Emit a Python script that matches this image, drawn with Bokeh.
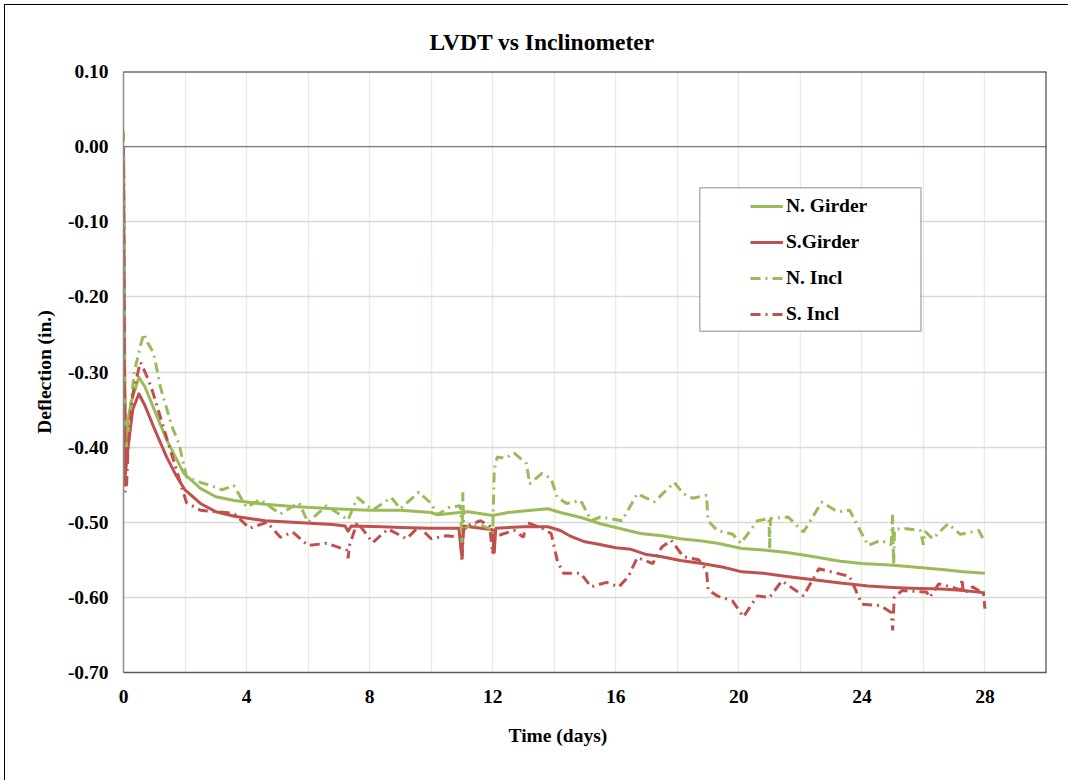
from bokeh.plotting import figure
from bokeh.models import (Span, BoxAnnotation, Legend, LegendItem, Title,
                          FixedTicker, NumeralTickFormatter, Range1d)
from bokeh.embed import file_html
from bokeh.resources import INLINE

# ---------------- data ----------------
x_ticks = [0, 4, 8, 12, 16, 20, 24, 28]
y_ticks = [-0.7, -0.6, -0.5, -0.4, -0.3, -0.2, -0.1, 0.0, 0.1]

n_girder_day = [0, 0.03, 0.08, 0.12, 0.25, 0.5, 0.7, 1.0, 1.4, 1.96, 2.5, 3.0,
                3.6, 4.6, 5.5, 6.8, 8.0, 9.0, 10.0, 10.2, 11.2, 12.0, 12.5, 13.0,
                13.8, 14.2, 14.9, 15.5, 16.0, 16.8, 17.5, 18.1, 18.8, 19.3, 20.1,
                20.8, 21.5, 22.3, 23.3, 24.0, 24.9, 25.5, 26.6, 27.3, 28.0]
n_girder_val = [-0.05, -0.30, -0.39, -0.37, -0.34, -0.307, -0.32, -0.35, -0.39,
                -0.435, -0.455, -0.466, -0.471, -0.476, -0.479, -0.482, -0.484,
                -0.484, -0.487, -0.49, -0.486, -0.491, -0.487, -0.485, -0.482,
                -0.487, -0.494, -0.502, -0.507, -0.515, -0.518, -0.522, -0.525,
                -0.528, -0.535, -0.537, -0.540, -0.545, -0.552, -0.555, -0.557,
                -0.559, -0.563, -0.566, -0.568]

s_girder_day = [0, 0.02, 0.05, 0.1, 0.15, 0.3, 0.5, 0.7, 1.0, 1.4, 1.7, 2.0, 2.5,
                3.0, 3.6, 4.6, 5.5, 6.8, 7.2, 7.3, 7.4, 8.4, 9.0, 10.0, 10.9,
                11.0, 11.05, 12.0, 12.05, 12.1, 13.0, 13.8, 14.2, 14.5, 15.0,
                15.4, 16.0, 16.5, 17.0, 17.5, 18.1, 18.8, 19.5, 20.1, 20.8, 21.5,
                22.3, 23.3, 24.2, 25.0, 25.6, 26.6, 27.3, 28.0]
s_girder_val = [0.0, -0.20, -0.44, -0.42, -0.40, -0.35, -0.329, -0.345, -0.375,
                -0.413, -0.437, -0.457, -0.475, -0.486, -0.492, -0.498, -0.500,
                -0.503, -0.505, -0.512, -0.505, -0.506, -0.507, -0.508, -0.508,
                -0.545, -0.505, -0.51, -0.54, -0.508, -0.506, -0.506, -0.511,
                -0.518, -0.526, -0.529, -0.534, -0.536, -0.543, -0.546, -0.551,
                -0.555, -0.560, -0.566, -0.568, -0.572, -0.576, -0.581, -0.585,
                -0.587, -0.588, -0.589, -0.591, -0.594]

n_incl_day = [0, 0.02, 0.05, 0.1, 0.2, 0.35, 0.55, 0.66, 0.8, 0.98, 1.2, 1.42,
              1.6, 1.8, 2.05, 2.5, 2.9, 3.2, 3.58, 4.0, 4.44, 5.1, 5.7, 6.0, 6.6,
              7.3, 7.6, 8.1, 8.7, 9.0, 9.6, 10.0, 10.2, 10.6, 10.95, 11.0, 11.03,
              11.06, 11.3, 11.7, 11.95, 12.0, 12.05, 12.15, 12.4, 12.7, 13.1,
              13.2, 13.6, 13.9, 14.1, 14.4, 14.86, 15.2, 15.5, 16.2, 16.7, 17.25,
              17.9, 18.2, 18.5, 18.95, 19.0, 19.3, 19.8, 20.07, 20.6, 20.98, 21.0,
              21.03, 21.6, 22.1, 22.7, 23.2, 23.6, 24.2, 24.6, 24.95, 25.0, 25.03,
              25.06, 25.3, 25.9, 26.0, 26.05, 26.3, 26.8, 27.2, 27.8, 28.0]
n_incl_val = [0.02, -0.10, -0.35, -0.40, -0.36, -0.30, -0.265, -0.249, -0.262,
              -0.275, -0.32, -0.351, -0.375, -0.395, -0.44, -0.447, -0.452,
              -0.457, -0.451, -0.48, -0.47, -0.489, -0.474, -0.50, -0.478,
              -0.497, -0.467, -0.484, -0.467, -0.482, -0.46, -0.475, -0.49,
              -0.48, -0.478, -0.53, -0.46, -0.51, -0.503, -0.505, -0.51, -0.515,
              -0.43, -0.413, -0.415, -0.408, -0.422, -0.449, -0.435, -0.442,
              -0.467, -0.475, -0.471, -0.498, -0.493, -0.498, -0.462, -0.473,
              -0.447, -0.462, -0.468, -0.464, -0.498, -0.511, -0.516, -0.528,
              -0.498, -0.495, -0.535, -0.495, -0.493, -0.513, -0.473, -0.486,
              -0.484, -0.531, -0.524, -0.53, -0.49, -0.56, -0.51, -0.508, -0.511,
              -0.53, -0.512, -0.522, -0.502, -0.516, -0.511, -0.527]

s_incl_day = [0, 0.02, 0.05, 0.1, 0.15, 0.3, 0.5, 0.55, 0.7, 0.9, 1.2, 1.42,
              1.86, 2.05, 2.5, 3.0, 3.58, 4.1, 4.66, 5.1, 5.5, 6.0, 6.6, 7.25,
              7.3, 7.35, 7.6, 8.1, 8.6, 9.2, 9.6, 10.0, 10.5, 10.95, 11.0, 11.05,
              11.2, 11.6, 11.9, 12.0, 12.05, 12.3, 12.7, 13.0, 13.1, 13.6, 13.9,
              14.1, 14.3, 14.86, 15.2, 15.7, 16.1, 16.4, 16.7, 17.2, 17.5, 17.8,
              18.2, 18.7, 18.95, 19.0, 19.3, 19.8, 20.15, 20.6, 21.0, 21.4, 22.1,
              22.6, 23.3, 23.6, 24.0, 24.6, 24.95, 25.0, 25.05, 25.3, 26.1, 26.2,
              26.5, 26.9, 27.2, 27.25, 27.3, 27.6, 27.95, 28.0]
s_incl_val = [0.0, -0.20, -0.46, -0.45, -0.40, -0.33, -0.295, -0.287, -0.30,
              -0.32, -0.36, -0.39, -0.449, -0.474, -0.484, -0.486, -0.488, -0.508,
              -0.50, -0.52, -0.513, -0.531, -0.528, -0.537, -0.548, -0.53, -0.50,
              -0.527, -0.509, -0.522, -0.506, -0.522, -0.518, -0.52, -0.553,
              -0.51, -0.504, -0.498, -0.505, -0.542, -0.52, -0.516, -0.511, -0.52,
              -0.50, -0.508, -0.515, -0.551, -0.568, -0.568, -0.586, -0.58,
              -0.586, -0.573, -0.547, -0.555, -0.533, -0.524, -0.546, -0.55,
              -0.564, -0.59, -0.598, -0.605, -0.626, -0.598, -0.60, -0.578,
              -0.598, -0.562, -0.569, -0.572, -0.609, -0.611, -0.62, -0.644,
              -0.60, -0.591, -0.593, -0.600, -0.582, -0.586, -0.59, -0.575,
              -0.595, -0.586, -0.595, -0.615]

series_names = ["N. Girder", "S.Girder", "N. Incl", "S. Incl"]

# ---------------- styling ----------------
GREEN = "#9BBB59"
RED = "#C0504D"
FONT = "Liberation Serif"

p = figure(width=1060, height=772, x_range=Range1d(0, 30), y_range=Range1d(-0.7, 0.1),
           output_backend="svg", toolbar_location=None,
           min_border_left=115, min_border_top=63, min_border_right=22,
           min_border_bottom=108)
p.styles = {"margin-left": "8px", "margin-top": "8px",
            "outline": "1.5px solid #000000", "outline-offset": "3px"}
p.outline_line_color = None
p.background_fill_color = "white"
p.border_fill_color = "white"

# title (above) and x-axis title (below)
p.title = Title(text="LVDT vs Inclinometer", align="left", offset=306,
                text_font=FONT, text_font_style="bold", text_font_size="23.5px",
                text_color="black", standoff=34)
p.add_layout(Title(text="Time (days)", align="left", offset=385,
                   text_font=FONT, text_font_style="bold", text_font_size="19.5px",
                   text_color="black", standoff=35), "below")

# grids
p.xgrid.ticker = FixedTicker(ticks=[2, 4, 6, 8, 10, 12, 14, 16, 18, 20, 22, 24, 26, 28])
p.xgrid.grid_line_color = "#EEECE1"
p.xgrid.grid_line_width = 1.5
p.ygrid.ticker = FixedTicker(ticks=y_ticks)
p.ygrid.grid_line_color = "#D9D9D9"
p.ygrid.grid_line_width = 1.3

# axes
p.xaxis.ticker = FixedTicker(ticks=x_ticks)
p.yaxis.ticker = FixedTicker(ticks=y_ticks)
p.yaxis.formatter = NumeralTickFormatter(format="0.00")
for ax in (p.xaxis[0], p.yaxis[0]):
    ax.major_tick_line_color = None
    ax.minor_tick_line_color = None
    ax.major_tick_out = 0
    ax.major_tick_in = 0
    ax.major_label_text_font = FONT
    ax.major_label_text_font_style = "bold"
    ax.major_label_text_font_size = "19.5px"
    ax.major_label_text_color = "black"
p.xaxis.major_label_standoff = 17
p.yaxis.major_label_standoff = 15
p.xaxis.axis_line_color = "#595959"
p.xaxis.axis_line_width = 1.5
p.yaxis.axis_line_color = "#8C8C8C"
p.yaxis.axis_line_width = 1.5
p.yaxis.axis_label = "Deflection (in.)"
p.yaxis.axis_label_text_font = FONT
p.yaxis.axis_label_text_font_style = "bold"
p.yaxis.axis_label_text_font_size = "19.5px"
p.yaxis.axis_label_text_color = "black"
p.yaxis.axis_label_standoff = 10

# zero line and top / right frame
p.add_layout(Span(location=0, dimension="width", line_color="#808080", line_width=1.3))
p.add_layout(Span(location=0.1, dimension="width", line_color="#262626", line_width=2))
p.add_layout(Span(location=30, dimension="height", line_color="#262626", line_width=2))

# series
dash = "10 5 2 5"
r_ng = p.line(n_girder_day, n_girder_val, line_color=GREEN, line_width=3, line_join="round")
r_sg = p.line(s_girder_day, s_girder_val, line_color=RED, line_width=3, line_join="round")
r_ni = p.line(n_incl_day, n_incl_val, line_color=GREEN, line_width=3, line_dash=dash)
r_si = p.line(s_incl_day, s_incl_val, line_color=RED, line_width=3, line_dash=dash)

# legend frame
p.add_layout(BoxAnnotation(left=18.73, right=25.92, top=-0.0548, bottom=-0.2457,
                           fill_color="white", fill_alpha=1.0,
                           line_color="black", line_width=1.5))

legend = Legend(items=[LegendItem(label=series_names[0], renderers=[r_ng]),
                       LegendItem(label=series_names[1], renderers=[r_sg]),
                       LegendItem(label=series_names[2], renderers=[r_ni]),
                       LegendItem(label=series_names[3], renderers=[r_si])],
                location=(627, 347), padding=0, margin=0,
                border_line_color=None, background_fill_alpha=0,
                glyph_width=33, glyph_height=22, label_height=22, spacing=14,
                label_standoff=3,
                label_text_font=FONT, label_text_font_style="bold",
                label_text_font_size="19.5px", label_text_color="black")
p.add_layout(legend)

open("out.html", "w").write(file_html(p, INLINE))
